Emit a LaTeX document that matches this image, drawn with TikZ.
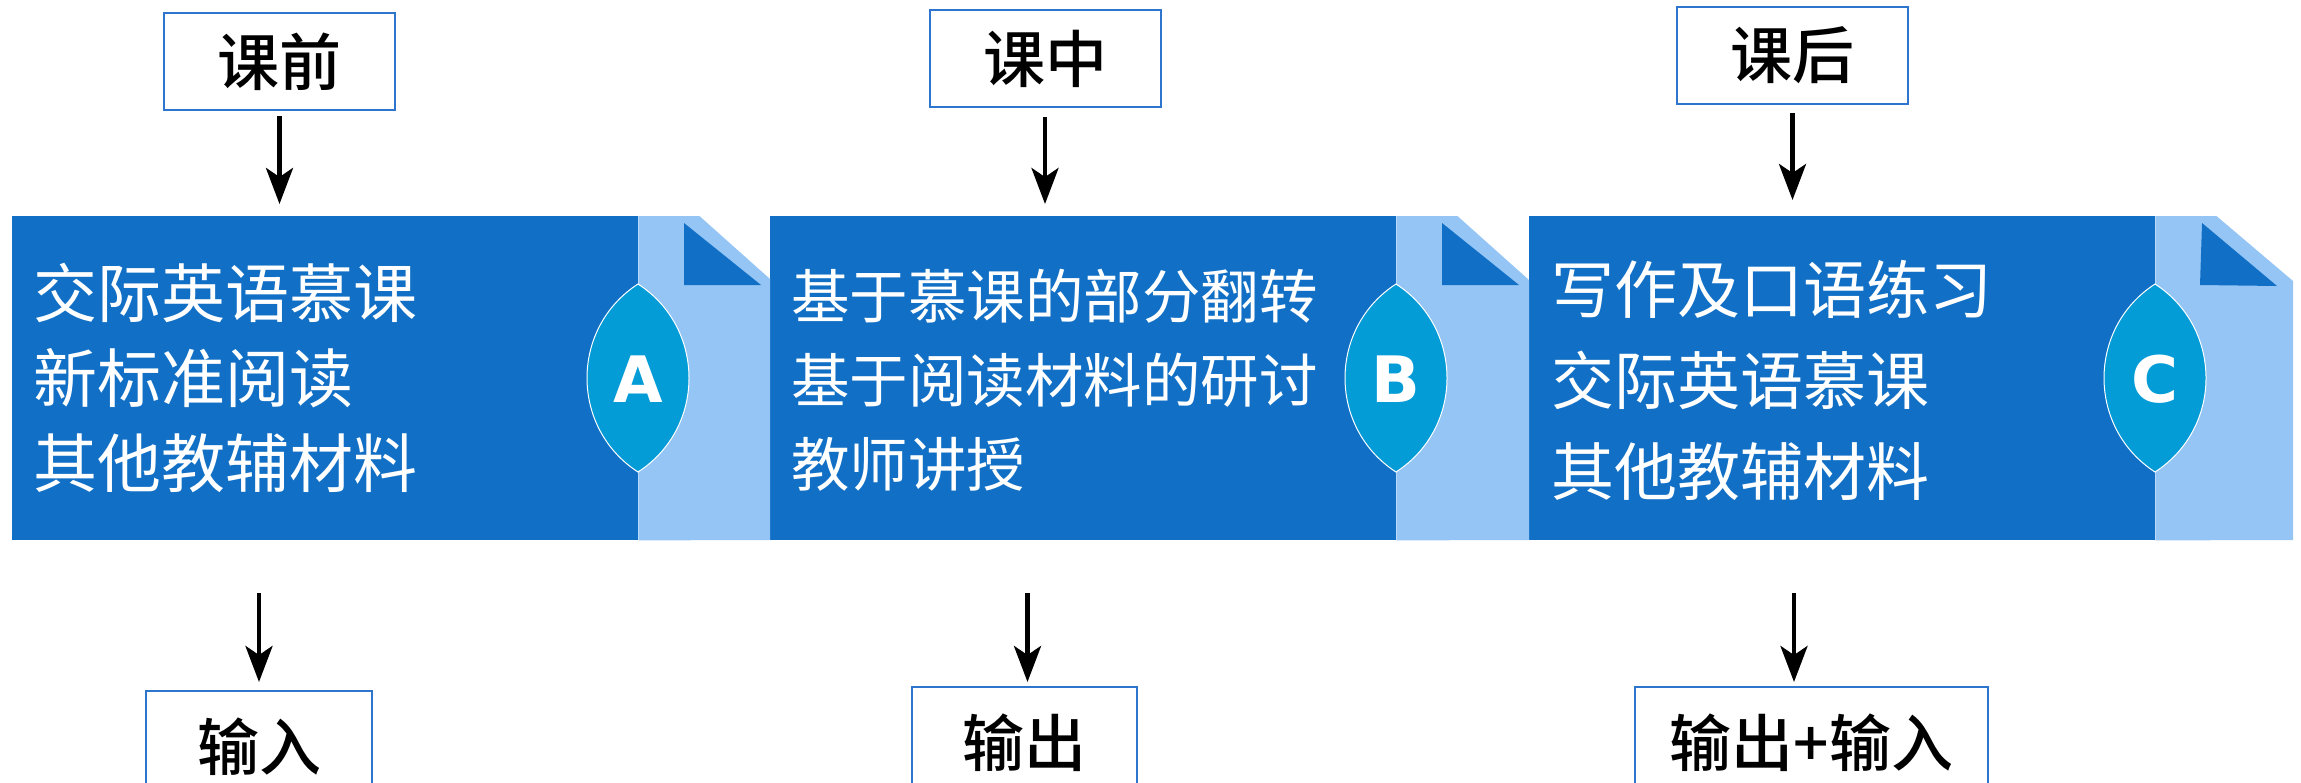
\documentclass[tikz,border=0pt]{standalone}
\usepackage{fontspec}
\setmainfont{DejaVu Sans}
\newfontfamily\cjk{Noto Sans CJK SC}
\newfontfamily\cjkb{Noto Sans CJK SC Medium}
\usetikzlibrary{arrows.meta}
\definecolor{darkblue}{HTML}{1170C6}
\definecolor{lightblue}{HTML}{94C5F5}
\definecolor{lensblue}{HTML}{039CD7}
\definecolor{borderblue}{HTML}{2E75CE}
\tikzset{
  labelbox/.style={draw=borderblue, line width=2pt, fill=white, minimum width=231pt, minimum height=97pt, inner sep=0pt, font=\cjkb\fontsize{62}{62}\selectfont, text=black},
  darkbox/.style={fill=darkblue, minimum width=626pt, minimum height=324pt, inner sep=0pt, anchor=north west},
  bodytext/.style={text=white, inner sep=0pt, align=left, anchor=west},
  lettertext/.style={text=white, inner sep=0pt, font=\bfseries\fontsize{64}{64}\selectfont},
  arr/.style={line width=4.5pt, -{Stealth[length=36pt,width=27pt,inset=9pt]}},
}
\begin{document}
\begin{tikzpicture}[x=1pt,y=-1pt]
\useasboundingbox (0,0) rectangle (2301,782);
\clip (0,0) rectangle (2301,782);

% ---- dark boxes
\node[darkbox] (A) at (12,216) {};
\node[darkbox] (B) at (770,216) {};
\node[darkbox] (C) at (1529,216) {};

% ---- light panels with folded corner
\fill[lightblue] (A.north east) -- ++(61,0) -- (770,279) -- (770,540) -- (A.south east) -- cycle;
\fill[darkblue] (684,223) -- (684,285) -- (761,285) -- cycle;
\fill[lightblue] (B.north east) -- ++(61,0) -- (1529,280) -- (1529,540) -- (B.south east) -- cycle;
\fill[darkblue] (1442,223) -- (1442,285) -- (1519,285) -- cycle;
\fill[lightblue] (C.north east) -- ++(61,0) -- (2293,281) -- (2293,540) -- (C.south east) -- cycle;
\fill[darkblue] (2202,223) -- (2200,285) -- (2277,286) -- cycle;

% ---- lenses
\foreach \cx/\nm/\lt in {638/la/A,1396/lb/B,2155/lc/C}{
  \filldraw[fill=lensblue, draw=white, line width=1pt]
    (\cx,284) .. controls (\cx+68,328) and (\cx+68,428) .. (\cx,472)
              .. controls (\cx-68,428) and (\cx-68,328) .. (\cx,284) -- cycle;
  \node[lettertext] (\nm) at (\cx,379) {\lt};
}

% ---- body texts
\node[bodytext, font=\cjk\fontsize{64}{85}\selectfont] (tA) at (33,378) {交际英语慕课\\新标准阅读\\其他教辅材料};
\node[bodytext, font=\cjk\fontsize{58.5}{84}\selectfont] (tB) at (791,380) {基于慕课的部分翻转\\基于阅读材料的研讨\\教师讲授};
\node[bodytext, font=\cjk\fontsize{63}{91}\selectfont] (tC) at (1551,380) {写作及口语练习\\交际英语慕课\\其他教辅材料};

% ---- top labels
\node[labelbox] (p1) at (279.5,61.5) {课前};
\node[labelbox] (p2) at (1045,58.5) {课中};
\node[labelbox] (p3) at (1792.5,55) {课后};

% ---- bottom labels
\node[labelbox, anchor=north, minimum width=226pt, minimum height=112pt] (q1) at (259,690) {输入};
\node[labelbox, anchor=north, minimum width=225pt, minimum height=112pt] (q2) at (1024.5,686) {输出};
\node[labelbox, anchor=north, minimum width=353pt, minimum height=112pt] (q3) at (1811.5,686) {输出+输入};

% ---- arrows
\draw[arr, shorten <=5pt, shorten >=12pt] (p1.south) -- (p1.south |- A.north);
\draw[arr, shorten <=9pt, shorten >=12pt] (p2.south) -- (p2.south |- B.north);
\draw[arr, shorten <=8pt, shorten >=16pt] (p3.south) -- (p3.south |- C.north);

\coordinate (d1) at (259,540);
\coordinate (d2) at (1027.5,540);
\coordinate (d3) at (1794,540);
\draw[arr, shorten <=53pt, shorten >=8pt] (d1) -- (d1 |- q1.north);
\draw[arr, shorten <=53pt, shorten >=4pt] (d2) -- (d2 |- q2.north);
\draw[arr, shorten <=53pt, shorten >=4pt] (d3) -- (d3 |- q3.north);
\end{tikzpicture}
\end{document}
